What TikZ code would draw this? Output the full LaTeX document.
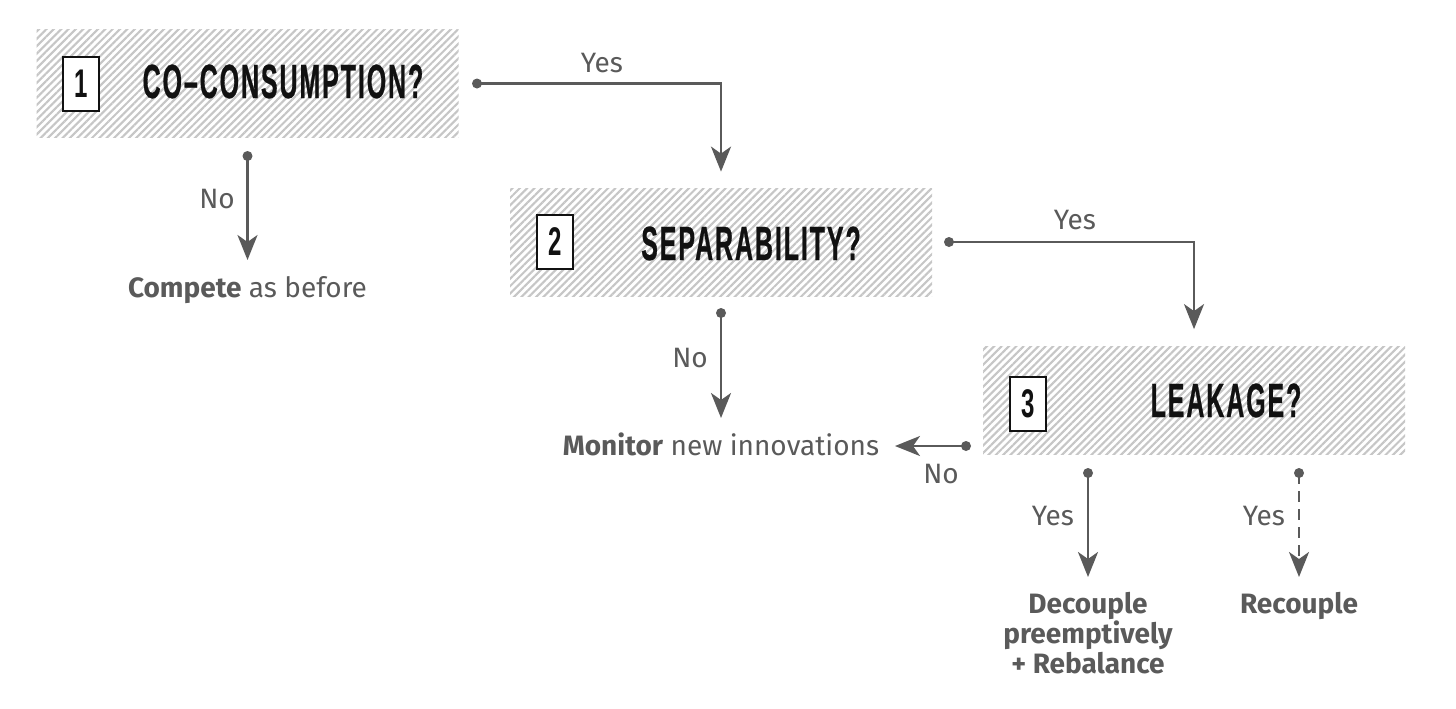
\documentclass[tikz,border=0pt]{standalone}
\usepackage{fontspec}
\setmainfont{Fira Sans}
\newfontfamily\headfont[FakeStretch=0.52,LetterSpace=4,FakeBold=0.6]{Liberation Sans}
\newfontfamily\numfont[FakeStretch=0.6]{Liberation Sans}
\usetikzlibrary{arrows.meta,patterns.meta}
\definecolor{ink}{HTML}{5A5A5A}
\definecolor{hatch}{HTML}{C6C6C6}
\definecolor{headink}{HTML}{111111}
\begin{document}
\begin{tikzpicture}[x=0.5pt,y=-0.5pt,
  qbox/.style={minimum width=211pt,minimum height=54pt,inner sep=0pt,
    pattern={Lines[angle=45,distance=2.6pt,line width=1.05pt]},pattern color=hatch},
  numbox/.style={draw=headink,line width=1pt,fill=white,minimum width=18pt,
    minimum height=27pt,inner sep=0pt,text=headink,
    font=\numfont\bfseries\fontsize{20}{20}\selectfont},
  head/.style={anchor=base,inner sep=0pt,text=headink,
    font=\headfont\bfseries\fontsize{24}{24}\selectfont},
  conn/.style={draw=ink,line width=1.25pt,
    -{Stealth[length=12.5pt,width=10pt,inset=3.5pt]}},
  dotn/.style={circle,fill=ink,inner sep=0pt,minimum size=5pt},
  lbl/.style={anchor=base,text=ink,inner sep=0pt,font=\fontsize{14}{14}\selectfont},
  res/.style={anchor=base,text=ink,inner sep=0pt,align=center,
    font=\fontsize{14}{15}\selectfont}]
\useasboundingbox[fill=white] (0,0) rectangle (1456,708);

% decision boxes
\node[qbox] (box1) at (247.5,83.5) {};
\node[qbox] (box2) at (721,242) {};
\node[qbox] (box3) at (1194,400.5) {};

\node[numbox] (n1) at (81,84) {1};
\node[numbox] (n2) at (555,242) {2};
\node[numbox] (n3) at (1028,404) {3};

\node[head] (h1) at (283,98) {CO–CONSUMPTION?};
\node[head] (h2) at (751,260) {SEPARABILITY?};
\node[head] (h3) at (1226,417) {LEAKAGE?};

% outcomes
\node[res] (r1) at (247.5,297) {\textbf{Compete} as before};
\node[res] (r2) at (721,455) {\textbf{Monitor} new innovations};
\node[res,anchor=north] (r3) at (1088,592) {\textbf{Decouple}\\\textbf{preemptively}\\\textbf{+ Rebalance}};
\node[res] (r4) at (1299,613) {\textbf{Recouple}};

% start dots
\node[dotn] (d1y) at (477,83.5) {};
\node[dotn] (d1n) at (247.5,156) {};
\node[dotn] (d2y) at (949,242) {};
\node[dotn] (d2n) at (721,313) {};
\node[dotn] (d3n) at (966,446) {};
\node[dotn] (d3a) at (1088,473) {};
\node[dotn] (d3b) at (1299,473) {};

% connectors
\draw[conn,shorten >=8pt] (d1y.center) -| (box2.north);
\draw[conn,shorten >=8.5pt] (d2y.center) -| (box3.north);
\draw[conn] (d1n.center) -- (247.5,260);
\draw[conn] (d2n.center) -- (721,418);
\draw[conn] (d3n.center) -- (895,446);
\draw[conn] (d3a.center) -- (1088,577);
\draw[conn,dash pattern=on 5.5pt off 3.5pt] (d3b.center) -- (1299,577);

% labels
\node[lbl] at (602,72) {Yes};
\node[lbl] at (217,208) {No};
\node[lbl] at (1075,229) {Yes};
\node[lbl] at (690,367) {No};
\node[lbl] at (941,483) {No};
\node[lbl] at (1053,525) {Yes};
\node[lbl] at (1264,525) {Yes};
\end{tikzpicture}
\end{document}
